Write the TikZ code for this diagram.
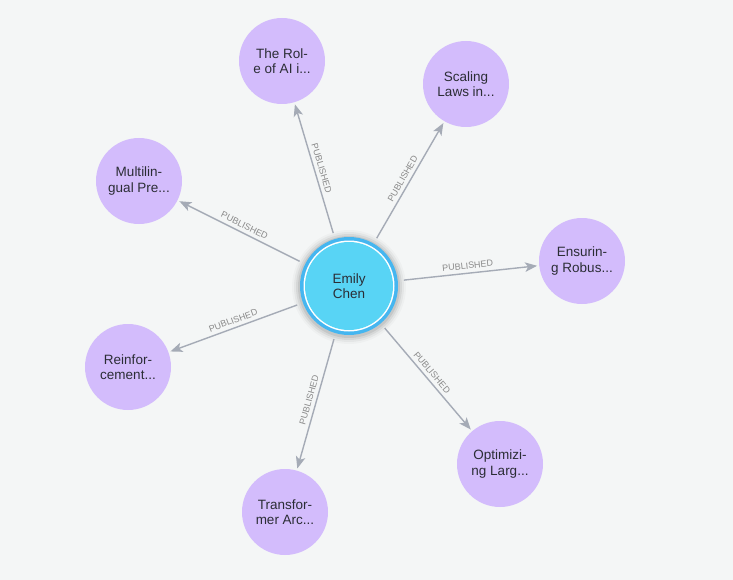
\documentclass[tikz,border=0pt]{standalone}
\usepackage{fontspec}
\setmainfont{Liberation Sans}
\usetikzlibrary{arrows.meta}
\definecolor{bg}{HTML}{F4F6F6}
\definecolor{paper}{HTML}{D3BCFC}
\definecolor{ringblue}{HTML}{45B6F0}
\definecolor{corecyan}{HTML}{58D4F5}
\definecolor{edgegray}{HTML}{A5ABB6}
\definecolor{labelgray}{HTML}{8A8A8A}
\definecolor{txt}{HTML}{2B2D35}
\tikzset{
  papernode/.style={circle, fill=paper, minimum size=86pt, inner sep=0pt, align=center,
    text=txt, font=\fontsize{13.5}{15.5}\selectfont},
  rel/.style={draw=edgegray, line width=1.4pt, -{Stealth[length=12pt,width=9.5pt,inset=3pt]},
    shorten <=6pt, shorten >=2pt},
  rellabel/.style={midway, sloped, above=2pt, inner sep=1.5pt, text=labelgray,
    font=\fontsize{9}{9}\selectfont}
}
\begin{document}
\begin{tikzpicture}[x=1pt,y=-1pt]
\fill[bg] (0,0) rectangle (733,580);
\useasboundingbox (0,0) rectangle (733,580);
% shadow around central node
\foreach \r/\o in {57/0.025,55/0.04,53/0.06,51/0.08}{
  \fill[black,opacity=\o] (349,287) circle (\r);
}
\node[circle, fill=ringblue, minimum size=98pt, inner sep=0pt] (c) at (349,286) {};
\node[circle, fill=white, minimum size=91pt, inner sep=0pt] (cw) at (c) {};
\node[circle, fill=corecyan, minimum size=88pt, inner sep=0pt, align=center, text=txt,
  font=\fontsize{13.5}{15}\selectfont] (ct) at (c) {Emily\\Chen};

\node[papernode] (p1) at (282,61) {The Rol-\\e of AI i...};
\node[papernode] (p2) at (466,84) {Scaling\\Laws in...};
\node[papernode] (p3) at (582,261) {Ensurin-\\g Robus...};
\node[papernode] (p4) at (500,464) {Optimizi-\\ng Larg...};
\node[papernode] (p5) at (285,512) {Transfor-\\mer Arc...};
\node[papernode] (p6) at (128,367) {Reinfor-\\cement...};
\node[papernode] (p7) at (139,181) {Multilin-\\gual Pre...};

\foreach \p in {p1,p2,p3,p4,p5,p6,p7}{
  \draw[rel] (c) -- (\p) node[rellabel] {PUBLISHED};
}
\end{tikzpicture}
\end{document}
